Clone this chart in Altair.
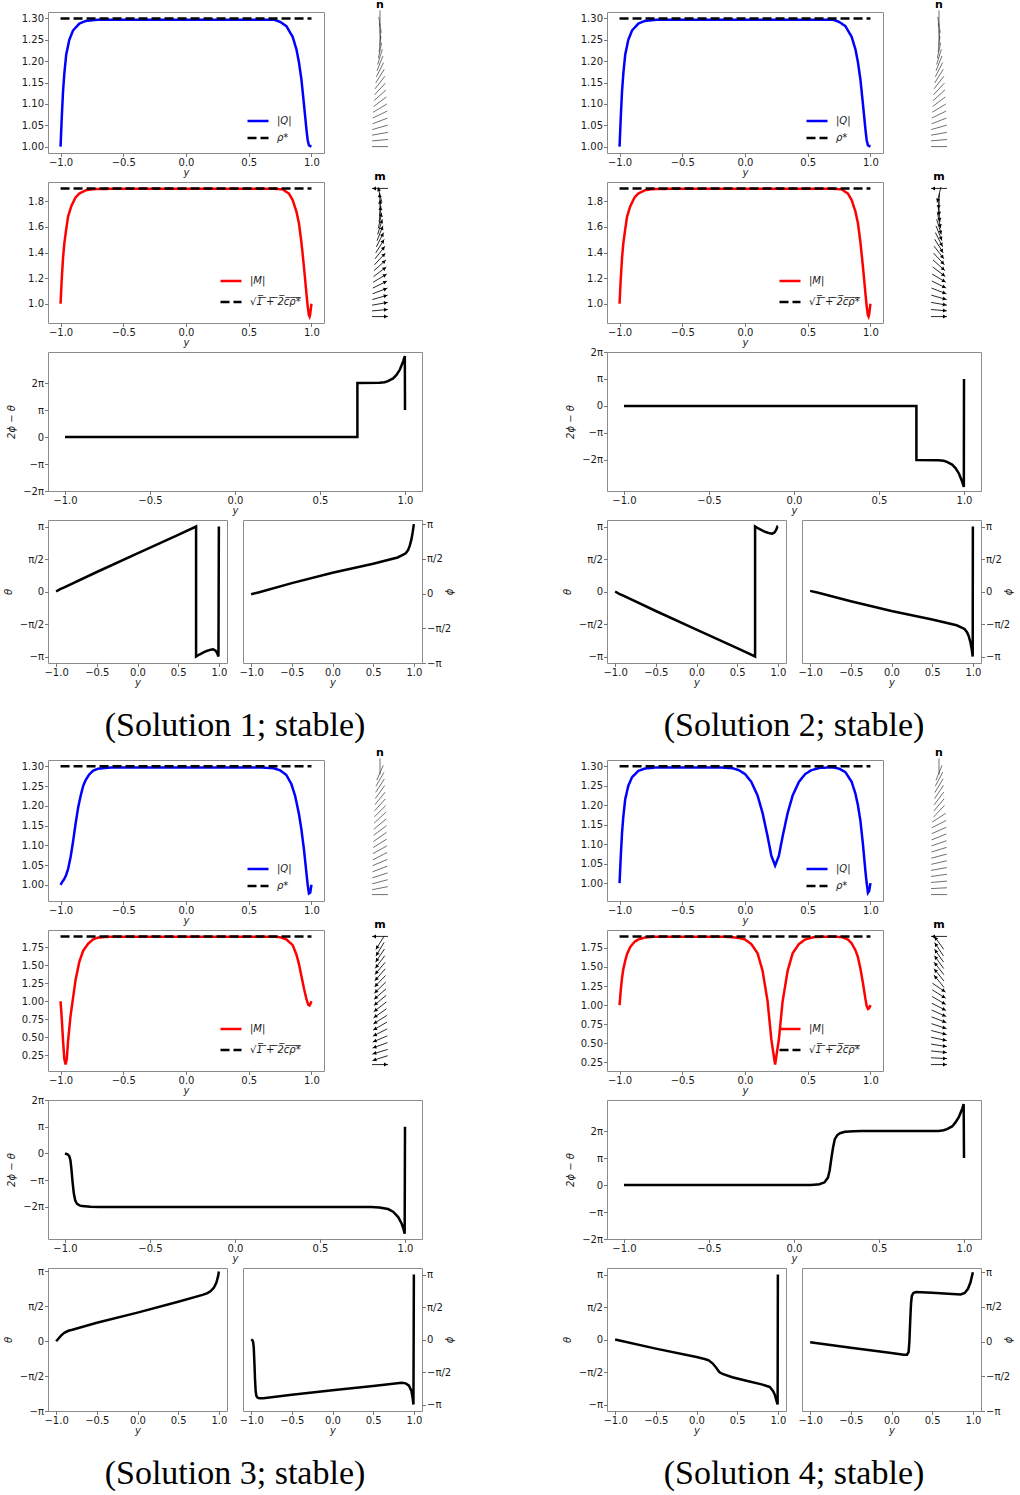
import math
import pandas as pd
import altair as alt

PI = math.pi

X_TICKS = [-1.0, -0.5, 0.0, 0.5, 1.0]
GLYPH_Y = [-1.0, -0.9, -0.8, -0.7, -0.6, -0.5, -0.4, -0.3, -0.2, -0.1, 0.0,
           0.1, 0.2, 0.3, 0.4, 0.5, 0.6, 0.7, 0.8, 0.9, 1.0]
RHO_STAR = 1.3
M_STAR = 1.9

# ---------- |Q| profiles (y, value) ----------
Q_SOL1 = [(-1.0, 1.0), (-0.99, 1.07), (-0.98, 1.13), (-0.97, 1.17), (-0.955, 1.215),
          (-0.93, 1.25), (-0.9, 1.272), (-0.85, 1.288), (-0.8, 1.294), (-0.7, 1.297),
          (0.7, 1.297), (0.75, 1.292), (0.8, 1.282), (0.85, 1.257), (0.88, 1.228),
          (0.9, 1.198), (0.92, 1.157), (0.94, 1.1), (0.96, 1.04), (0.97, 1.015),
          (0.98, 1.003), (1.0, 1.0)]
Q_SOL2 = Q_SOL1
Q_SOL3 = [(-1.0, 1.0), (-0.985, 1.008), (-0.97, 1.015), (-0.955, 1.025), (-0.94, 1.04),
          (-0.92, 1.07), (-0.9, 1.11), (-0.88, 1.155), (-0.86, 1.195), (-0.84, 1.225),
          (-0.82, 1.25), (-0.8, 1.265), (-0.77, 1.28), (-0.74, 1.289), (-0.7, 1.294),
          (-0.6, 1.297), (0.6, 1.297), (0.7, 1.295), (0.75, 1.29), (0.8, 1.278),
          (0.84, 1.255), (0.87, 1.225), (0.9, 1.18), (0.92, 1.14), (0.94, 1.09),
          (0.96, 1.03), (0.97, 1.0), (0.98, 0.978), (0.99, 0.98), (1.0, 1.0)]
Q_SOL4 = [(-1.0, 1.0), (-0.99, 1.07), (-0.98, 1.13), (-0.97, 1.17), (-0.955, 1.215),
          (-0.93, 1.25), (-0.9, 1.272), (-0.85, 1.288), (-0.8, 1.294), (-0.7, 1.297),
          (-0.2, 1.297), (-0.1, 1.295), (-0.05, 1.29), (0.0, 1.28), (0.05, 1.26),
          (0.1, 1.225), (0.14, 1.18), (0.18, 1.12), (0.21, 1.07), (0.24, 1.045),
          (0.27, 1.07), (0.3, 1.12), (0.34, 1.18), (0.38, 1.225), (0.43, 1.26),
          (0.48, 1.28), (0.53, 1.29), (0.6, 1.296), (0.7, 1.297), (0.75, 1.294),
          (0.8, 1.285), (0.85, 1.26), (0.88, 1.23), (0.9, 1.2), (0.92, 1.16),
          (0.94, 1.1), (0.96, 1.03), (0.97, 1.0), (0.98, 0.975), (0.99, 0.98), (1.0, 1.0)]

# ---------- |M| profiles (y, value) ----------
M_SOL1 = [(-1.0, 1.0), (-0.99, 1.2), (-0.98, 1.36), (-0.97, 1.47), (-0.955, 1.58),
          (-0.94, 1.68), (-0.915, 1.76), (-0.88, 1.83), (-0.85, 1.86), (-0.8, 1.885),
          (-0.74, 1.894), (-0.6, 1.897), (0.7, 1.897), (0.77, 1.893), (0.82, 1.86),
          (0.85, 1.81), (0.88, 1.72), (0.9, 1.63), (0.92, 1.48), (0.94, 1.29),
          (0.96, 1.08), (0.97, 0.98), (0.98, 0.91), (0.985, 0.9), (0.99, 0.92), (1.0, 1.0)]
M_SOL2 = M_SOL1
M_SOL3 = [(-1.0, 1.0), (-0.99, 0.75), (-0.98, 0.45), (-0.97, 0.2), (-0.96, 0.12),
          (-0.95, 0.2), (-0.94, 0.45), (-0.92, 0.8), (-0.9, 1.05), (-0.88, 1.3),
          (-0.85, 1.55), (-0.82, 1.7), (-0.78, 1.8), (-0.74, 1.86), (-0.7, 1.885),
          (-0.6, 1.897), (0.7, 1.897), (0.75, 1.89), (0.8, 1.86), (0.85, 1.78),
          (0.88, 1.65), (0.9, 1.52), (0.92, 1.35), (0.94, 1.18), (0.96, 1.03),
          (0.975, 0.95), (0.985, 0.94), (0.993, 0.97), (1.0, 1.0)]
M_SOL4 = [(-1.0, 1.0), (-0.99, 1.2), (-0.98, 1.36), (-0.97, 1.47), (-0.955, 1.58),
          (-0.94, 1.67), (-0.915, 1.76), (-0.88, 1.83), (-0.85, 1.86), (-0.8, 1.885),
          (-0.74, 1.894), (-0.2, 1.897), (-0.1, 1.89), (-0.05, 1.88), (0.0, 1.86),
          (0.05, 1.8), (0.1, 1.68), (0.14, 1.45), (0.18, 1.05), (0.21, 0.55),
          (0.24, 0.22), (0.27, 0.55), (0.3, 1.05), (0.34, 1.45), (0.38, 1.68),
          (0.43, 1.8), (0.48, 1.86), (0.55, 1.89), (0.65, 1.897), (0.77, 1.893),
          (0.82, 1.86), (0.85, 1.81), (0.88, 1.72), (0.9, 1.63), (0.92, 1.48),
          (0.94, 1.29), (0.96, 1.08), (0.97, 0.99), (0.98, 0.95), (0.99, 0.96), (1.0, 1.0)]

# ---------- 2phi - theta (y, value in units of pi) ----------
P_SOL1 = [(-1.0, 0.0), (0.72, 0.0), (0.72, 2.0), (0.85, 2.01), (0.88, 2.03), (0.9, 2.07),
          (0.93, 2.17), (0.95, 2.3), (0.97, 2.5), (0.98, 2.66), (0.99, 2.82),
          (0.999, 3.0), (1.0, 1.0)]
P_SOL2 = [(-1.0, 0.0), (0.72, 0.0), (0.72, -2.0), (0.85, -2.01), (0.88, -2.03), (0.9, -2.07),
          (0.93, -2.17), (0.95, -2.3), (0.97, -2.5), (0.98, -2.66), (0.99, -2.82),
          (0.999, -3.0), (1.0, 1.0)]
P_SOL3 = [(-1.0, 0.0), (-0.985, -0.03), (-0.975, -0.1), (-0.968, -0.25), (-0.962, -0.6),
          (-0.955, -1.1), (-0.948, -1.5), (-0.94, -1.75), (-0.93, -1.88), (-0.915, -1.94),
          (-0.9, -1.97), (-0.85, -1.99), (-0.8, -2.0), (0.8, -2.0), (0.85, -2.02),
          (0.9, -2.08), (0.93, -2.18), (0.96, -2.38), (0.98, -2.62), (0.99, -2.8),
          (0.998, -3.0), (1.0, 1.0)]
P_SOL4 = [(-1.0, 0.0), (0.1, 0.0), (0.15, 0.03), (0.18, 0.1), (0.2, 0.28), (0.21, 0.55),
          (0.22, 1.0), (0.23, 1.4), (0.24, 1.7), (0.255, 1.85), (0.27, 1.92), (0.3, 1.97),
          (0.35, 1.99), (0.4, 2.0), (0.85, 2.0), (0.88, 2.03), (0.9, 2.07), (0.93, 2.17),
          (0.95, 2.32), (0.97, 2.52), (0.98, 2.68), (0.99, 2.84), (0.998, 3.0), (1.0, 1.0)]

# ---------- theta (y, value in units of pi) ----------
T_SOL1 = [(-1.0, 0.0), (-0.95, 0.035), (-0.9, 0.065), (-0.5, 0.3), (0.0, 0.585),
          (0.5, 0.87), (0.72, 1.0), (0.72, -1.0), (0.76, -0.97), (0.8, -0.945),
          (0.85, -0.915), (0.9, -0.895), (0.93, -0.89), (0.96, -0.91), (0.98, -0.95),
          (0.995, -1.0), (1.0, 1.0)]
T_SOL2 = [(-1.0, 0.0), (-0.95, -0.035), (-0.9, -0.065), (-0.5, -0.3), (0.0, -0.585),
          (0.5, -0.87), (0.72, -1.0), (0.72, 1.0), (0.76, 0.97), (0.8, 0.945),
          (0.85, 0.915), (0.9, 0.895), (0.93, 0.89), (0.96, 0.91), (0.98, 0.95),
          (0.995, 1.0), (1.0, 1.0)]
T_SOL3 = [(-1.0, 0.0), (-0.97, 0.04), (-0.94, 0.08), (-0.9, 0.12), (-0.85, 0.15),
          (-0.8, 0.165), (-0.5, 0.265), (0.0, 0.41), (0.5, 0.565), (0.8, 0.665),
          (0.86, 0.69), (0.9, 0.72), (0.94, 0.77), (0.97, 0.84), (0.99, 0.93), (1.0, 1.0)]
T_SOL4 = [(-1.0, 0.0), (-0.5, -0.14), (0.0, -0.27), (0.1, -0.3), (0.15, -0.32),
          (0.2, -0.37), (0.24, -0.43), (0.28, -0.5), (0.32, -0.53), (0.44, -0.58),
          (0.6, -0.63), (0.8, -0.69), (0.9, -0.73), (0.94, -0.79), (0.96, -0.84),
          (0.99, -0.97), (0.997, -1.0), (1.0, 1.0)]

# ---------- phi (y, value in units of pi) ----------
F_SOL1 = [(-1.0, -0.01), (-0.9, 0.02), (-0.5, 0.15), (0.0, 0.3), (0.5, 0.43), (0.8, 0.52),
          (0.87, 0.56), (0.9, 0.58), (0.93, 0.63), (0.95, 0.69), (0.97, 0.78),
          (0.985, 0.88), (1.0, 1.0)]
F_SOL2 = [(-1.0, 0.01), (-0.9, -0.02), (-0.5, -0.15), (0.0, -0.3), (0.5, -0.43), (0.8, -0.52),
          (0.87, -0.56), (0.9, -0.58), (0.93, -0.63), (0.95, -0.69), (0.97, -0.78),
          (0.985, -0.88), (0.998, -1.0), (1.0, 1.0)]
F_SOL3 = [(-1.0, 0.0), (-0.985, -0.01), (-0.975, -0.04), (-0.968, -0.12), (-0.96, -0.35),
          (-0.952, -0.62), (-0.944, -0.8), (-0.935, -0.87), (-0.92, -0.895), (-0.9, -0.905),
          (-0.85, -0.905), (-0.5, -0.85), (0.0, -0.78), (0.5, -0.715), (0.85, -0.667),
          (0.9, -0.675), (0.94, -0.71), (0.97, -0.79), (0.985, -0.9), (0.995, -1.0), (1.0, 1.0)]
F_SOL4 = [(-1.0, -0.01), (-0.5, -0.09), (0.0, -0.165), (0.15, -0.19), (0.19, -0.19),
          (0.21, -0.15), (0.22, 0.0), (0.23, 0.3), (0.24, 0.55), (0.25, 0.66), (0.27, 0.7),
          (0.3, 0.715), (0.5, 0.705), (0.7, 0.69), (0.85, 0.68), (0.9, 0.7), (0.94, 0.76),
          (0.97, 0.85), (1.0, 1.0)]

# ---------- director (n) and polarisation (m) angles in degrees at GLYPH_Y ----------
NA_SOL1 = [0, 5, 10, 16, 21, 26, 31, 37, 42, 47, 52, 58, 63, 68, 73, 78, 84, 89, 95, 99, 90]
MA_SOL1 = [0, 5, 10, 16, 21, 26, 31, 37, 42, 47, 52, 58, 63, 68, 73, 78, 84, 89, 94, 104, 180]
NA_SOL2 = [0, 5, 10, 16, 21, 26, 31, 37, 42, 47, 52, 58, 63, 68, 73, 78, 84, 89, 95, 99, 90]
MA_SOL2 = [0, -5, -10, -16, -21, -26, -31, -37, -42, -47, -52, -58, -63, -68, -73, -78, -84,
           -89, -94, -104, 180]
NA_SOL3 = [0, 11, 15, 18, 21, 23, 27, 29, 32, 35, 37, 40, 43, 45, 48, 51, 54, 57, 60, 66, 90]
MA_SOL3 = [0, -162, -163, -160, -157, -153, -150, -148, -145, -142, -140, -139, -136, -134,
           -131, -130, -127, -124, -121, -122, 180]
NA_SOL4 = [0, 3, 5, 8, 10, 13, 15, 17, 19, 22, 24, 27, 33, 47, 50, 53, 56, 59, 62, 68, 90]
MA_SOL4 = [0, -3, -6, -9, -12, -15, -18, -21, -24, -27, -30, -32, -34, 129, 129, 128, 126,
           125, 124, 126, 180]

CAPTIONS = ["(Solution 1; stable)", "(Solution 2; stable)",
            "(Solution 3; stable)", "(Solution 4; stable)"]

Q_TICKS = [1.0, 1.05, 1.1, 1.15, 1.2, 1.25, 1.3]
M_TICKS_A = [1.0, 1.2, 1.4, 1.6, 1.8]
M_TICKS_B = [0.25, 0.5, 0.75, 1.0, 1.25, 1.5, 1.75]

Q_LABEL, RHO_LABEL = "|Q|", "ρ*"
M_LABEL = "|M|"
M_REF_LABEL = "√" + "".join(ch + "\u0305" for ch in "1 + 2cρ*")

# ---------- layout constants ----------
COL_GAP = 16
ROW_TOP, ROW_BOTTOM = 20, 28    # fixed band reserved above / below every row of frames
FIRST_TOP = 8
ROW_SPACING = -40               # rows then sit ROW_BOTTOM px below the previous frames
MAG_W, MAG_H = 276, 141
WIDE_W, WIDE_H = 374, 139
HALF_W, HALF_H = 179, 143
CAP_H = 39
RIGHT_START = 559               # left edge of the right-hand solution's frames
GLY_W = RIGHT_START - MAG_W - 2 * COL_GAP
GLY_W_LAST = 60
GLY_CENTER = 40
GLY_PX_PER_UNIT = 8.0
GLY_YDOM = [-1.1, 1.1]
GLY_HALF = 1.0
SIDE_GAP_W = RIGHT_START - WIDE_W - 2 * COL_GAP

XSCALE = alt.Scale(domain=[-1.1, 1.1], nice=False, zero=False)

PI_EXPR = ("abs(datum.value) < 0.1 ? '0' : (abs(datum.value) < 4 ? "
           "(datum.value > 0 ? 'π' : '−π') : (datum.value > 0 ? '2π' : '−2π'))")
HALF_PI_EXPR = ("abs(datum.value) < 0.1 ? '0' : (abs(datum.value) < 2 ? "
                "(datum.value > 0 ? 'π/2' : '−π/2') : (datum.value > 0 ? 'π' : '−π'))")

CLEAR = alt.ViewBackground(stroke="transparent")
ONE = pd.DataFrame({"a": [0]})


def blank(w, h):
    return alt.Chart(ONE).mark_text(text="").encode(
        x=alt.value(0), y=alt.value(0)).properties(width=w, height=h, view=CLEAR)


def band(h, top):
    # invisible guide that gives every row the same outer extent
    return alt.Chart(ONE).mark_rule(strokeOpacity=0).encode(
        x=alt.value(-44), y=alt.value(-top), y2=alt.value(h + ROW_BOTTOM))


def x_axis():
    return alt.Axis(values=X_TICKS, format=".1f", title="y", titleFontStyle="italic")


def mag_panel(curve, name, ref_name, ref_value, color, ydom, yticks, yfmt, lx, ly, rowpad):
    rows = [{"y": y, "v": v, "s": name, "k": i} for i, (y, v) in enumerate(curve)]
    rows += [{"y": -1.0, "v": ref_value, "s": ref_name, "k": 0},
             {"y": 1.0, "v": ref_value, "s": ref_name, "k": 1}]
    dom = [name, ref_name]
    leg = alt.Legend(title=None, orient="none", legendX=lx, legendY=ly,
                     symbolType="stroke", symbolSize=441, symbolStrokeWidth=2.5,
                     labelFontSize=10, labelFont="DejaVu Sans", labelFontStyle="italic",
                     labelColor="#1a1a1a", labelOffset=7, rowPadding=rowpad, padding=0)
    return alt.Chart(pd.DataFrame(rows)).mark_line(strokeWidth=2.5).encode(
        x=alt.X("y:Q", scale=XSCALE, axis=x_axis()),
        y=alt.Y("v:Q", scale=alt.Scale(domain=ydom, nice=False, zero=False),
                axis=alt.Axis(values=yticks, format=yfmt, title=None)),
        color=alt.Color("s:N", scale=alt.Scale(domain=dom, range=[color, "black"]), legend=leg),
        strokeDash=alt.StrokeDash("s:N", scale=alt.Scale(domain=dom, range=[[1, 0], [9, 4]]),
                                  legend=leg),
        order="k:Q",
    ).properties(width=MAG_W, height=MAG_H)


def glyph_panel(angles, label, arrows, width):
    sy = MAG_H / (GLY_YDOM[1] - GLY_YDOM[0])
    rows = []
    for y, a in zip(GLYPH_Y, angles):
        r = math.radians(a)
        dx = math.cos(r) * GLY_HALF
        dy = math.sin(r) * GLY_HALF * GLY_PX_PER_UNIT / sy
        rows.append({"x": -dx, "y": y - dy, "x2": dx, "y2": y + dy,
                     "hx": 0.72 * dx, "hy": y + 0.72 * dy, "ang": (-a) % 360})
    df = pd.DataFrame(rows)
    x0 = -GLY_CENTER / GLY_PX_PER_UNIT
    xs = alt.Scale(domain=[x0, x0 + width / GLY_PX_PER_UNIT], nice=False, zero=False)
    ys = alt.Scale(domain=GLY_YDOM, nice=False, zero=False)
    base = alt.Chart(df)
    sticks = base.mark_rule(strokeWidth=0.9 if arrows else 0.7,
                            color="#111" if arrows else "#333").encode(
        x=alt.X("x:Q", scale=xs, axis=None), y=alt.Y("y:Q", scale=ys, axis=None),
        x2="x2:Q", y2="y2:Q")
    layers = [sticks]
    if arrows:
        heads = base.mark_point(shape="triangle-right", filled=True, size=16,
                                color="black", opacity=1).encode(
            x=alt.X("hx:Q", scale=xs, axis=None), y=alt.Y("hy:Q", scale=ys, axis=None),
            angle=alt.Angle("ang:Q", scale=None))
        layers.append(heads)
    return alt.layer(*layers).properties(
        width=width, height=MAG_H, view=CLEAR,
        title=alt.TitleParams(label, fontSize=11, fontWeight="bold", font="DejaVu Sans",
                              offset=0, anchor="start", align="center", dx=GLY_CENTER,
                              color="black"))


def phase_panel(curve, ydom):
    df = pd.DataFrame([{"y": y, "v": v * PI, "k": i} for i, (y, v) in enumerate(curve)])
    return alt.Chart(df).mark_line(strokeWidth=2.5, color="black").encode(
        x=alt.X("y:Q", scale=XSCALE, axis=x_axis()),
        y=alt.Y("v:Q", scale=alt.Scale(domain=[ydom[0] * PI, ydom[1] * PI], nice=False, zero=False),
                axis=alt.Axis(values=[-2 * PI, -PI, 0, PI, 2 * PI], labelExpr=PI_EXPR,
                              title="2ϕ − θ", titleFontStyle="italic", titlePadding=6)),
        order="k:Q",
    ).properties(width=WIDE_W, height=WIDE_H)


def angle_panel(curve, ydom, title, orient):
    df = pd.DataFrame([{"y": y, "v": v * PI, "k": i} for i, (y, v) in enumerate(curve)])
    ax = alt.Axis(values=[-PI, -PI / 2, 0, PI / 2, PI], labelExpr=HALF_PI_EXPR, title=title,
                  titleFontStyle="italic", orient=orient, titleAngle=270,
                  titlePadding=6 if orient == "left" else 4)
    return alt.Chart(df).mark_line(strokeWidth=2.5, color="black").encode(
        x=alt.X("y:Q", scale=XSCALE, axis=x_axis()),
        y=alt.Y("v:Q", scale=alt.Scale(domain=[ydom[0] * PI, ydom[1] * PI], nice=False, zero=False),
                axis=ax),
        order="k:Q",
    ).properties(width=HALF_W, height=HALF_H)


def caption(text):
    return alt.Chart(pd.DataFrame({"t": [text]})).mark_text(
        font="Liberation Serif", fontSize=34, color="black").encode(
        text="t:N", x=alt.value(WIDE_W / 2), y=alt.value(34)
    ).properties(width=WIDE_W, height=CAP_H, view=CLEAR)


def first(chart, w, h, top=ROW_TOP, clear=False):
    props = {"width": w, "height": h}
    if clear:
        props["view"] = CLEAR
    return alt.layer(chart, band(h, top)).properties(**props)


def solution(q, m, p, t, f, n_ang, m_ang, cap, qdom, mdom, mticks, mfmt, pdom, tdom, fdom,
             glyph_w):
    return {
        "q": mag_panel(q, Q_LABEL, RHO_LABEL, RHO_STAR, "#0000ff", qdom, Q_TICKS, ".2f",
                       198, 97, 0),
        "n": glyph_panel(n_ang, "n", False, glyph_w),
        "m": mag_panel(m, M_LABEL, M_REF_LABEL, M_STAR, "#ff0000", mdom, mticks, mfmt,
                       171, 87, 4),
        "mv": glyph_panel(m_ang, "m", True, glyph_w),
        "p": phase_panel(p, pdom),
        "t": angle_panel(t, tdom, "θ", "left"),
        "f": angle_panel(f, fdom, "ϕ", "right"),
        "cap": caption(cap),
    }


def row(*charts):
    return alt.hconcat(*charts, spacing=COL_GAP, bounds="flush").resolve_scale(
        color="independent", strokeDash="independent").resolve_legend(
        color="independent", strokeDash="independent")


def rows_for(a, b, top_first):
    return [
        row(first(a["q"], MAG_W, MAG_H, top=top_first), a["n"], b["q"], b["n"]),
        row(first(a["m"], MAG_W, MAG_H), a["mv"], b["m"], b["mv"]),
        row(first(a["p"], WIDE_W, WIDE_H), blank(SIDE_GAP_W, WIDE_H), b["p"]),
        row(first(a["t"], HALF_W, HALF_H), a["f"], blank(SIDE_GAP_W, HALF_H), b["t"], b["f"]),
        row(first(a["cap"], WIDE_W, CAP_H, clear=True), blank(SIDE_GAP_W, CAP_H), b["cap"]),
    ]


s1 = solution(Q_SOL1, M_SOL1, P_SOL1, T_SOL1, F_SOL1, NA_SOL1, MA_SOL1, CAPTIONS[0],
              [0.985, 1.315], [0.85, 1.95], M_TICKS_A, ".1f", [-2.0, 3.15], [-1.1, 1.1],
              [-1.0, 1.06], GLY_W)
s2 = solution(Q_SOL2, M_SOL2, P_SOL2, T_SOL2, F_SOL2, NA_SOL2, MA_SOL2, CAPTIONS[1],
              [0.985, 1.315], [0.85, 1.95], M_TICKS_A, ".1f", [-3.15, 2.0], [-1.1, 1.1],
              [-1.1, 1.1], GLY_W_LAST)
s3 = solution(Q_SOL3, M_SOL3, P_SOL3, T_SOL3, F_SOL3, NA_SOL3, MA_SOL3, CAPTIONS[2],
              [0.959, 1.316], [0.03, 1.99], M_TICKS_B, ".2f", [-3.2, 2.0], [-1.0, 1.05],
              [-1.1, 1.1], GLY_W)
s4 = solution(Q_SOL4, M_SOL4, P_SOL4, T_SOL4, F_SOL4, NA_SOL4, MA_SOL4, CAPTIONS[3],
              [0.954, 1.316], [0.136, 1.984], M_TICKS_B, ".2f", [-2.0, 3.15], [-1.1, 1.1],
              [-1.0, 1.06], GLY_W_LAST)

chart = alt.vconcat(
    *(rows_for(s1, s2, FIRST_TOP) + rows_for(s3, s4, ROW_TOP)),
    spacing=ROW_SPACING,
).resolve_scale(
    color="independent", strokeDash="independent"
).resolve_legend(
    color="independent", strokeDash="independent"
).properties(
    padding={"left": 2, "top": -2, "right": 2, "bottom": 2},
    background="white",
).configure_view(
    stroke="#8c8c8c", strokeWidth=1
).configure_axis(
    labelFont="DejaVu Sans", labelFontSize=10, labelColor="#1a1a1a",
    titleFont="DejaVu Sans", titleFontSize=10, titleFontWeight="normal", titleColor="#1a1a1a",
    tickColor="#555555", tickSize=3.5, tickWidth=0.8, domain=False, grid=False,
    labelPadding=1, titlePadding=0, labelFlush=False, labelOverlap=False,
)

chart.save("out.html", embed_options={"renderer": "svg", "actions": False})
